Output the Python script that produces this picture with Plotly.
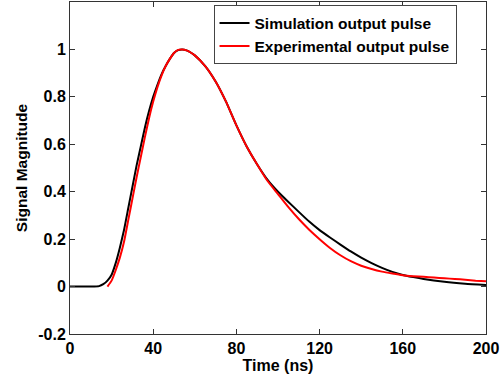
import plotly.graph_objects as go

sim_t = [0, 10, 14, 16, 18, 20, 22, 24, 26, 28, 30, 32, 34, 36, 38, 40, 42, 44, 46, 48, 50, 52, 54, 56, 58,
         60, 65, 70, 75, 80, 85, 90, 95, 100, 105, 110, 115, 120, 125, 130, 135, 140, 145, 150, 155, 160,
         165, 170, 180, 190, 200]
sim_v = [0, 0, 0.002, 0.01, 0.025, 0.05, 0.1, 0.165, 0.24, 0.33, 0.42, 0.51, 0.59, 0.67, 0.74, 0.80, 0.85,
         0.895, 0.93, 0.96, 0.985, 0.997, 1.0, 0.996, 0.987,
         0.975, 0.93, 0.865, 0.78, 0.68, 0.59, 0.515, 0.45, 0.40, 0.357, 0.315, 0.274, 0.238, 0.207, 0.177,
         0.148, 0.122, 0.099, 0.079, 0.062, 0.049, 0.04, 0.032, 0.02, 0.012, 0.007]

exp_t = [18, 20, 22, 24, 26, 28, 30, 32, 34, 36, 38, 40, 42, 44, 46, 48, 50, 52, 54, 56, 58,
         60, 65, 70, 75, 80, 85, 90, 95, 100, 105, 110, 115, 120, 125, 130, 135, 140, 145, 150, 155, 160,
         165, 170, 175, 180, 185, 190, 195, 200]
exp_v = [0, 0.025, 0.07, 0.123, 0.19, 0.28, 0.37, 0.46, 0.545, 0.63, 0.71, 0.78, 0.84, 0.89, 0.93, 0.96,
         0.985, 0.998, 1.0, 0.996, 0.987,
         0.975, 0.93, 0.865, 0.78, 0.68, 0.59, 0.515, 0.445, 0.39, 0.335, 0.285, 0.24, 0.20, 0.163, 0.132,
         0.107, 0.088, 0.074, 0.063, 0.055, 0.048, 0.044, 0.041, 0.038, 0.035, 0.032, 0.029, 0.025, 0.022]

x_ticks = [0, 40, 80, 120, 160, 200]
y_ticks = [-0.2, 0, 0.2, 0.4, 0.6, 0.8, 1]
y_tick_text = ["-0.2", "0", "0.2", "0.4", "0.6", "0.8", "1"]

FONT = "Liberation Sans, Arial, sans-serif"

fig = go.Figure()
fig.add_trace(go.Scatter(x=sim_t, y=sim_v, mode="lines", name="Simulation output pulse",
                         line=dict(color="black", width=2, shape="spline", smoothing=0.5)))
fig.add_trace(go.Scatter(x=exp_t, y=exp_v, mode="lines", name="Experimental output pulse",
                         line=dict(color="red", width=2, shape="spline", smoothing=0.5)))

axis_common = dict(showline=True, linecolor="#333333", linewidth=1, mirror="ticks", ticks="inside",
                   ticklen=5, tickcolor="#333333", showgrid=False, zeroline=False,
                   tickfont=dict(family=FONT, size=16, color="black", weight="bold"))

fig.update_xaxes(range=[0, 200], tickvals=x_ticks, ticktext=[str(v) for v in x_ticks],
                 title=dict(text="Time (ns)", font=dict(family=FONT, size=16, color="black", weight="bold"),
                            standoff=2),
                 **axis_common)
fig.update_yaxes(range=[-0.2, 1.2], tickvals=y_ticks, ticktext=y_tick_text,
                 title=dict(text="Signal Magnitude", font=dict(family=FONT, size=15.5, color="black", weight="bold"),
                            standoff=6),
                 **axis_common)

fig.update_layout(
    width=503, height=377,
    margin=dict(l=70, r=17, t=2, b=43),
    paper_bgcolor="white", plot_bgcolor="white",
    showlegend=True,
    legend=dict(x=0.345, y=0.99, xanchor="left", yanchor="top",
                bordercolor="#444444", borderwidth=1, bgcolor="white",
                font=dict(family=FONT, size=15.5, color="black", weight="bold"),
                tracegroupgap=0, itemwidth=30),
)

fig.write_html("out.html")
